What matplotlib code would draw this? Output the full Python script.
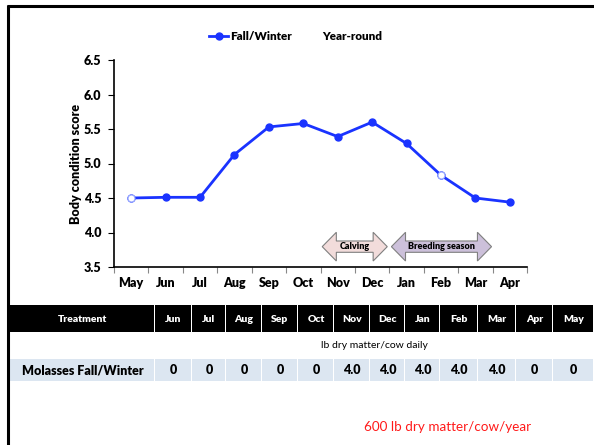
import matplotlib
matplotlib.use("Agg")
import matplotlib.pyplot as plt
from matplotlib.patches import Polygon, Rectangle
from matplotlib.lines import Line2D
import numpy as np

plt.rcParams['font.family'] = ['Lato', 'DejaVu Sans']

# chart data
months = ["May", "Jun", "Jul", "Aug", "Sep", "Oct", "Nov", "Dec", "Jan", "Feb", "Mar", "Apr"]
bcs_fall_winter = [4.50, 4.51, 4.51, 5.13, 5.53, 5.58, 5.39, 5.60, 5.29, 4.83, 4.50, 4.44]
hollow_points = ["May", "Feb"]
yticks = [3.5, 4.0, 4.5, 5.0, 5.5, 6.0, 6.5]

# table data
table_months = ["Jun", "Jul", "Aug", "Sep", "Oct", "Nov", "Dec", "Jan", "Feb", "Mar", "Apr", "May"]
molasses = ["0", "0", "0", "0", "0", "4.0", "4.0", "4.0", "4.0", "4.0", "0", "0"]
row_label = "Molasses Fall/Winter"
unit_note = "lb dry matter/cow daily"
total_note = "600 lb dry matter/cow/year"

W, H = 594, 445
fig = plt.figure(figsize=(W / 100, H / 100), dpi=100)

# ---- line chart ----
ax = fig.add_axes([114 / W, 1 - 267 / H, 413 / W, 207 / H])
x = np.arange(len(months))
blue = "#1a33ff"
ax.plot(x, bcs_fall_winter, color=blue, lw=2, marker="o", ms=5, zorder=3)
for m in hollow_points:
    i = months.index(m)
    ax.plot(x[i], bcs_fall_winter[i], "o", ms=5, mfc="white", mec="#9aaaff", mew=0.8, zorder=4)

ax.set_xlim(-0.5, len(months) - 0.5)
ax.set_ylim(3.5, 6.5)
ax.set_yticks(yticks)
ax.set_yticklabels([f"{t:.1f}" for t in yticks], fontsize=9, fontweight="heavy")
ax.set_xticks(x)
ax.set_xticklabels(months, fontsize=9, fontweight="heavy")
ax.set_xticks(np.arange(-0.5, len(months)), minor=True)
ax.tick_params(axis="x", which="major", length=0, pad=7)
ax.tick_params(axis="x", which="minor", length=4, width=0.8, color="#888888")
ax.tick_params(axis="y", length=4, width=0.8, pad=5)
ax.spines["top"].set_visible(False)
ax.spines["right"].set_visible(False)
ax.spines["left"].set_linewidth(1.2)
ax.spines["bottom"].set_linewidth(1.2)
ax.set_ylabel("Body condition score", fontsize=9, fontweight="heavy", labelpad=1)

handles = [Line2D([], [], color=blue, lw=2, marker="o", ms=5),
           Line2D([], [], color="white", lw=2)]
fig.legend(handles, ["Fall/Winter", "Year-round"], loc="center",
           bbox_to_anchor=(296 / W, 1 - 37 / H), ncol=2, frameon=False,
           prop={"size": 8.4, "weight": "heavy"}, handlelength=1.6,
           handletextpad=0.2, columnspacing=0.8)


def double_arrow(ax, x0, x1, yc, label, face):
    head = 0.41
    hh = 0.208
    bh = 0.082
    pts = [(x0, yc), (x0 + head, yc + hh), (x0 + head, yc + bh), (x1 - head, yc + bh),
           (x1 - head, yc + hh), (x1, yc), (x1 - head, yc - hh), (x1 - head, yc - bh),
           (x0 + head, yc - bh), (x0 + head, yc - hh)]
    ax.add_patch(Polygon(pts, closed=True, facecolor=face, edgecolor="#7f7f7f",
                         lw=0.8, zorder=2))
    ax.text((x0 + x1) / 2, yc, label, ha="center", va="center", fontsize=6.5,
            fontweight="heavy", zorder=3)


double_arrow(ax, 5.55, 7.44, 3.795, "Calving", "#f2dcdb")
double_arrow(ax, 7.56, 10.47, 3.795, "Breeding season", "#ccc0da")

# ---- table and frame ----
ov = fig.add_axes([0, 0, 1, 1])
ov.set_xlim(0, W)
ov.set_ylim(H, 0)
ov.axis("off")

ov.plot([7, W], [6, 6], color="black", lw=2.2, solid_capstyle="butt")
ov.plot([8, 8], [5, H], color="black", lw=2.2, solid_capstyle="butt")

edges = [10, 155, 192, 226, 262, 298, 334, 370, 405, 440, 478, 516, 553, 594]
gap = 1.2
head_top, head_bot = 305, 332
row_top, row_bot = 359, 381
header = ["Treatment"] + table_months
row = [row_label] + molasses
for j in range(len(edges) - 1):
    l, r = edges[j], edges[j + 1]
    ov.add_patch(Rectangle((l, head_top), r - l - gap, head_bot - head_top,
                           facecolor="black", edgecolor="none"))
    ov.add_patch(Rectangle((l, row_top), r - l - gap, row_bot - row_top,
                           facecolor="#dce6f1", edgecolor="none"))
    cx = (l + r) / 2
    ov.text(cx, (head_top + head_bot) / 2 + 0.5, header[j], color="white", ha="center",
            va="center", fontsize=7.5, fontweight="heavy")
    ov.text(cx, (row_top + row_bot) / 2 + 0.5, row[j], color="black", ha="center",
            va="center", fontsize=9, fontweight="heavy")

ov.text((edges[1] + edges[-1]) / 2, 345, unit_note, ha="center", va="center", fontsize=7.5)
ov.text(448, 427, total_note, ha="center", va="center", fontsize=9.7, color="#ff1a1a")

fig.savefig("out.png", dpi=100)
